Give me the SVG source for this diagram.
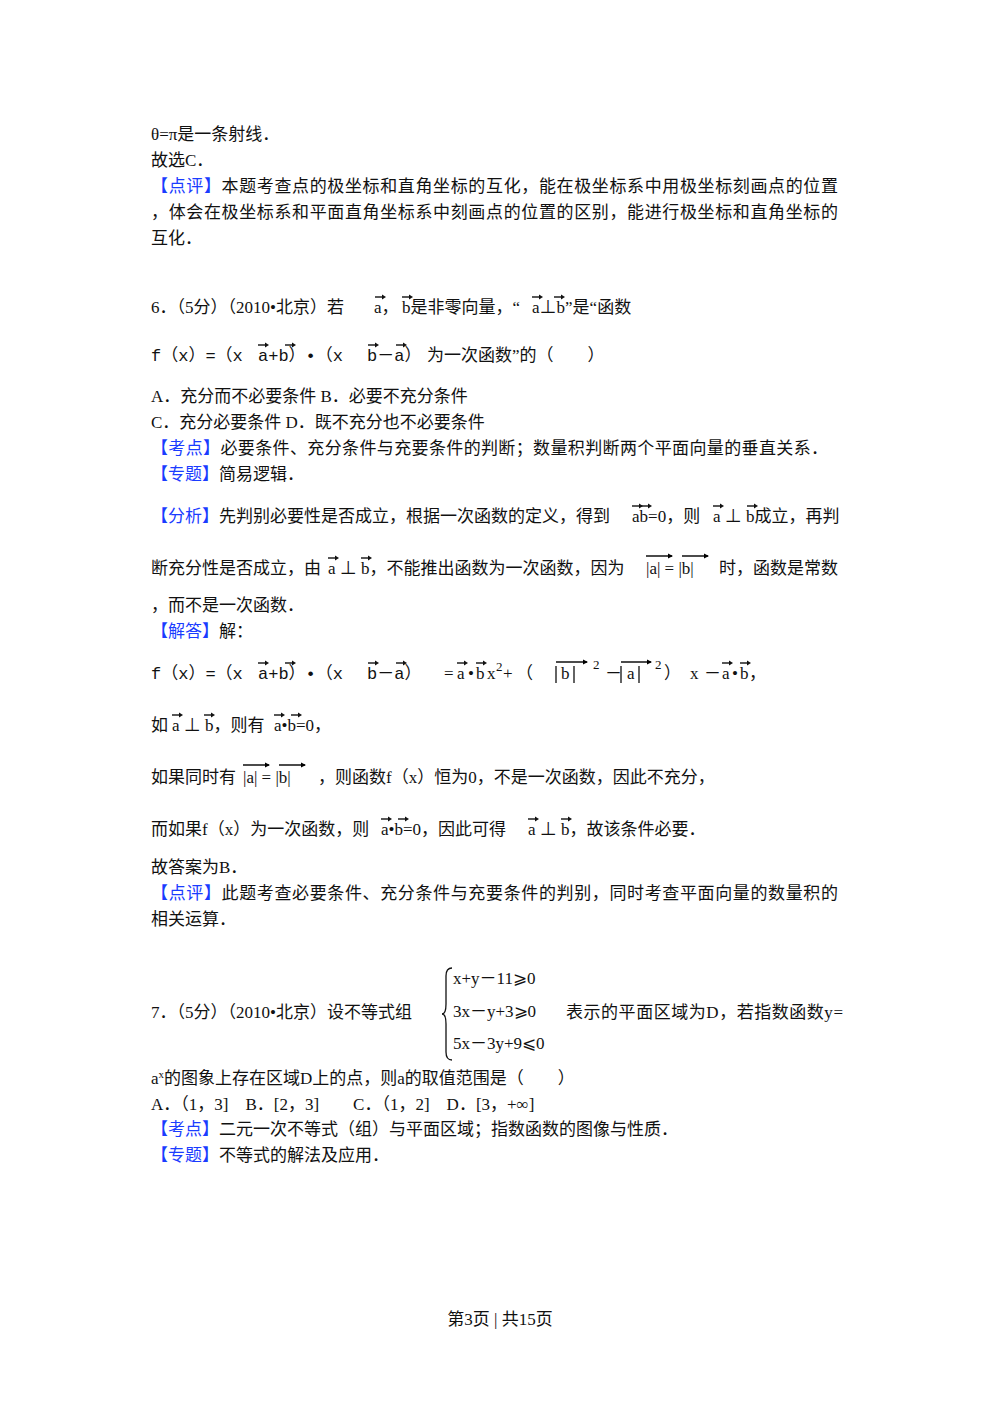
<svg xmlns="http://www.w3.org/2000/svg" xmlns:xlink="http://www.w3.org/1999/xlink" width="1000" height="1414" viewBox="0 0 1000 1414">
<style>
text{font-family:"Liberation Serif","Noto Sans CJK SC",serif;font-size:17px;fill:#111}
.m{font-family:"Liberation Mono","Noto Sans CJK SC",monospace;font-size:17px}
.b{fill:#1a3cff}
.ln{stroke:#111;stroke-width:1.3;fill:none}
</style>
<defs>
<g id="v"><path d="M0 0h8" stroke="#111" stroke-width="1.4"/><path d="M7 -2.6L11 0L7 2.6z" fill="#111"/></g>
</defs>
<rect width="1000" height="1414" fill="#fff"/>
<text x="151" y="140">θ=π是一条射线．</text>
<text x="151" y="166">故选C．</text>
<text x="151" y="192" textLength="687"><tspan class="b">【点评】</tspan>本题考查点的极坐标和直角坐标的互化，能在极坐标系中用极坐标刻画点的位置</text>
<text x="151" y="218" textLength="687">，体会在极坐标系和平面直角坐标系中刻画点的位置的区别，能进行极坐标和直角坐标的</text>
<text x="151" y="244">互化．</text>

<g id="q6">
<text x="151" y="313">6．（5分）（2010•北京）若<tspan x="374">a，</tspan><tspan x="402">b是非零向量，“</tspan><tspan x="532">a⊥b”是“函数</tspan></text>
<use href="#v" x="375" y="297"/><use href="#v" x="402" y="297"/><use href="#v" x="532" y="297"/><use href="#v" x="554" y="297"/>
<text class="m" x="151" y="361">f（x）=（x<tspan x="258">a+b）•（x</tspan><tspan x="367">b－a）</tspan></text>
<text x="427" y="361">为一次函数”的（　　）</text>
<use href="#v" x="258" y="345"/><use href="#v" x="285" y="345"/><use href="#v" x="368" y="345"/><use href="#v" x="396" y="345"/>
<text x="151" y="402">A．充分而不必要条件 B．必要不充分条件</text>
<text x="151" y="428">C．充分必要条件 D．既不充分也不必要条件</text>
<text x="151" y="454" textLength="677"><tspan class="b">【考点】</tspan>必要条件、充分条件与充要条件的判断；数量积判断两个平面向量的垂直关系．</text>
<text x="151" y="480"><tspan class="b">【专题】</tspan>简易逻辑．</text>
<text x="151" y="522"><tspan class="b">【分析】</tspan>先判别必要性是否成立，根据一次函数的定义，得到<tspan x="632">ab=0，则</tspan><tspan x="713">a ⊥ b成立，再判</tspan></text>
<use href="#v" x="632" y="506"/><use href="#v" x="641" y="506"/><use href="#v" x="713" y="506"/><use href="#v" x="747" y="506"/>
<text x="151" y="574">断充分性是否成立，由<tspan x="328">a ⊥ b，不能推出函数为一次函数，因为</tspan></text>
<text x="646" y="574">|a| = |b|</text>
<path class="ln" d="M646 556h26M682 556h26"/><path d="M668 553.4L673 556L668 558.6z M704 553.4L709 556L704 558.6z"/>
<text x="719" y="574">时，函数是常数</text>
<use href="#v" x="328" y="558"/><use href="#v" x="361" y="558"/>
<text x="151" y="611">，而不是一次函数．</text>
<text x="151" y="637"><tspan class="b">【解答】</tspan>解：</text>
<text class="m" x="151" y="679">f（x）=（x<tspan x="258">a+b）•（x</tspan><tspan x="367">b－a）</tspan></text>
<use href="#v" x="258" y="663"/><use href="#v" x="285" y="663"/><use href="#v" x="368" y="663"/><use href="#v" x="396" y="663"/>
<text y="679"><tspan x="444">=</tspan><tspan x="457">a</tspan><tspan x="468">•</tspan><tspan x="476">b</tspan><tspan x="487">x</tspan><tspan x="496" y="671" font-size="13">2</tspan><tspan x="503" y="679">+</tspan><tspan x="516">（</tspan><tspan x="561">b</tspan><tspan x="593" y="669" font-size="13">2</tspan><tspan x="605" y="679">－</tspan><tspan x="627">a</tspan><tspan x="655" y="669" font-size="13">2</tspan><tspan x="664" y="679">）</tspan><tspan x="690">x</tspan><tspan x="704">－</tspan><tspan x="722">a</tspan><tspan x="732">•</tspan><tspan x="740">b</tspan><tspan x="749">，</tspan></text>
<use href="#v" x="457" y="663"/><use href="#v" x="476" y="663"/><use href="#v" x="722" y="663"/><use href="#v" x="740" y="663"/>
<path class="ln" d="M556 666v17M574 666v17M621 666v17M639 666v17M556 662h31M621 662h30"/><path d="M583 659.4L588 662L583 664.6z M647 659.4L652 662L647 664.6z"/>
<text x="151" y="731">如<tspan x="172">a ⊥ b，则有</tspan><tspan x="274">a•b=0，</tspan></text>
<use href="#v" x="172" y="715"/><use href="#v" x="204" y="715"/><use href="#v" x="274" y="715"/><use href="#v" x="291" y="715"/>
<text x="151" y="783">如果同时有<tspan x="243">|a| = |b|</tspan><tspan x="318">，则函数f（x）恒为0，不是一次函数，因此不充分，</tspan></text>
<path class="ln" d="M243 765h26M279 765h26"/><path d="M265 762.4L270 765L265 767.6z M301 762.4L306 765L301 767.6z"/>
<text x="151" y="835">而如果f（x）为一次函数，则<tspan x="381">a•b=0，因此可得</tspan><tspan x="528">a ⊥ b，故该条件必要．</tspan></text>
<use href="#v" x="381" y="819"/><use href="#v" x="398" y="819"/><use href="#v" x="528" y="819"/><use href="#v" x="561" y="819"/>
<text x="151" y="873">故答案为B．</text>
<text x="151" y="899" textLength="687"><tspan class="b">【点评】</tspan>此题考查必要条件、充分条件与充要条件的判别，同时考查平面向量的数量积的</text>
<text x="151" y="925">相关运算．</text>
</g>

<g id="q7">
<text x="151" y="1018">7．（5分）（2010•北京）设不等式组</text>
<path class="ln" d="M452 968q-6 0 -6 8v28q0 10 -4 10q4 0 4 10v28q0 8 6 8"/>
<text x="453" y="984" font-size="18">x+y－11⩾0</text>
<text x="453" y="1017" font-size="18">3x－y+3⩾0</text>
<text x="453" y="1049" font-size="18">5x－3y+9⩽0</text>
<text x="566" y="1018" textLength="277">表示的平面区域为D，若指数函数y=</text>
<text x="151" y="1084">a<tspan dy="-6" font-size="11">x</tspan><tspan dy="6">的图象上存在区域D上的点，则a的取值范围是（　　）</tspan></text>
<text x="151" y="1110">A．（1，3]　B．[2，3]　　C．（1，2]　D．[3，+∞]</text>
<text x="151" y="1135"><tspan class="b">【考点】</tspan>二元一次不等式（组）与平面区域；指数函数的图像与性质．</text>
<text x="151" y="1161"><tspan class="b">【专题】</tspan>不等式的解法及应用．</text>
</g>
<text x="500" y="1325" text-anchor="middle" font-size="15">第3页 | 共15页</text>
</svg>
